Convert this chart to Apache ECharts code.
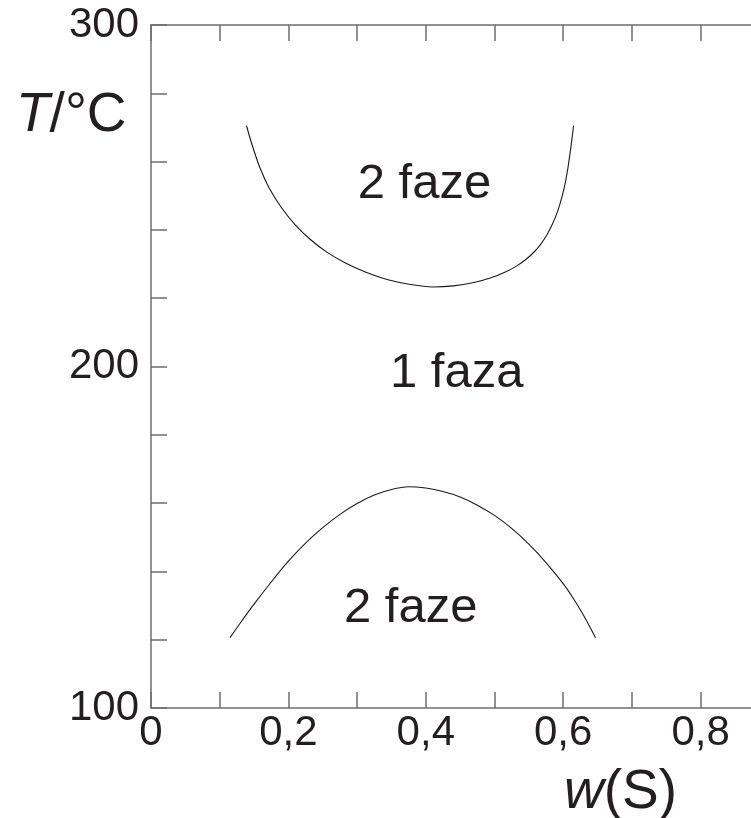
<!DOCTYPE html>
<html>
<head>
<meta charset="utf-8">
<script src="https://cdn.jsdelivr.net/npm/echarts@6/dist/echarts.min.js"></script>
<style>
  html, body { margin: 0; padding: 0; background: #fff; }
  #chart { width: 751px; height: 818px; }
</style>
</head>
<body>
<div id="chart"></div>
<script>
// Phase boundary (binodal) curves: T/°C against mass fraction w(S)
const upperCurve = [
  [0.139, 270.5], [0.147, 265.0], [0.158, 258.5], [0.172, 252.3], [0.190, 246.5],
  [0.210, 241.5], [0.232, 237.2], [0.256, 233.5], [0.283, 230.3], [0.313, 227.6],
  [0.345, 225.4], [0.378, 224.0], [0.410, 223.3], [0.440, 223.6], [0.470, 224.6],
  [0.495, 226.0], [0.515, 227.6], [0.532, 229.4], [0.546, 231.4], [0.558, 233.6],
  [0.568, 236.0], [0.577, 238.8], [0.585, 242.0], [0.592, 245.5], [0.598, 249.5],
  [0.603, 253.8], [0.607, 258.3], [0.610, 262.5], [0.613, 267.0], [0.615, 270.5]
];
const lowerCurve = [
  [0.115, 120.6], [0.130, 124.9], [0.150, 130.4], [0.175, 136.9], [0.200, 143.0],
  [0.225, 148.3], [0.250, 152.8], [0.275, 156.7], [0.300, 159.9], [0.325, 162.4],
  [0.350, 164.0], [0.375, 164.8], [0.400, 164.4], [0.425, 163.4], [0.450, 161.8],
  [0.475, 159.4], [0.500, 156.4], [0.525, 152.6], [0.550, 148.0], [0.575, 142.6],
  [0.600, 136.4], [0.615, 132.0], [0.630, 127.0], [0.647, 120.6]
];
// Region captions placed in data coordinates
const regionLabels = [
  { name: '2 faze', value: [0.398, 253.2] },
  { name: '1 faza', value: [0.445, 197.9] },
  { name: '2 faze', value: [0.378, 129.0] }
];
const xTickLabels = ['0', '0,2', '0,4', '0,6', '0,8'];
const yTickLabels = ['100', '200', '300'];

const FONT = '"Liberation Sans", Arial, sans-serif';
const TEXT = '#231f20';
const AXIS = '#6e6e6e';

const chart = echarts.init(document.getElementById('chart'), null, { renderer: 'canvas' });

const axisCommon = {
  type: 'value',
  axisLine: { show: true, lineStyle: { color: AXIS, width: 1.5 } },
  axisTick: { show: true, inside: true, length: 16, lineStyle: { color: AXIS, width: 1.5 } },
  splitLine: { show: false }
};

chart.setOption({
  animation: false,
  backgroundColor: '#fff',
  grid: {
    left: 151, top: 25, width: 687, height: 683,
    containLabel: false, outerBoundsMode: 'none'
  },
  xAxis: [
    Object.assign({}, axisCommon, {
      position: 'bottom', min: 0, max: 1, interval: 0.1,
      axisLabel: {
        margin: 4, fontSize: 42, fontFamily: FONT, color: TEXT,
        showMinLabel: true,
        formatter: v => {
          const k = Math.round(v * 10);
          return (k % 2 === 0 && k / 2 < xTickLabels.length) ? xTickLabels[k / 2] : '';
        }
      }
    }),
    Object.assign({}, axisCommon, {
      position: 'top', min: 0, max: 1, interval: 0.1,
      axisLabel: { show: false }
    })
  ],
  yAxis: [
    Object.assign({}, axisCommon, {
      position: 'left', min: 100, max: 300, interval: 20,
      axisLabel: {
        margin: 12, fontSize: 42, fontFamily: FONT, color: TEXT,
        showMinLabel: true, showMaxLabel: true,
        formatter: v => {
          const s = String(Math.round(v));
          return yTickLabels.indexOf(s) >= 0 ? s : '';
        }
      }
    })
  ],
  series: [
    {
      type: 'line', data: upperCurve, smooth: 0.3, symbol: 'none',
      lineStyle: { color: '#1a1a1a', width: 1.1 }
    },
    {
      type: 'line', data: lowerCurve, smooth: 0.3, symbol: 'none',
      lineStyle: { color: '#1a1a1a', width: 1.1 }
    },
    {
      type: 'scatter', data: regionLabels, symbolSize: 0,
      itemStyle: { opacity: 1 },
      label: {
        show: true, position: 'inside', formatter: p => p.name,
        fontSize: 49, fontFamily: FONT, color: TEXT, opacity: 1
      },
      silent: true
    }
  ],
  graphic: [
    {
      type: 'text', left: 16, top: 88,
      style: {
        text: '{i|T}/°C', fontSize: 55, fontFamily: FONT, fill: TEXT,
        rich: { i: { fontStyle: 'italic', fontSize: 55, fontFamily: FONT, fill: TEXT } }
      }
    },
    {
      type: 'text', left: 564, top: 765,
      style: {
        text: '{i|w}(S)', fontSize: 55, fontFamily: FONT, fill: TEXT,
        rich: { i: { fontStyle: 'italic', fontSize: 55, fontFamily: FONT, fill: TEXT } }
      }
    }
  ]
});
</script>
</body>
</html>
